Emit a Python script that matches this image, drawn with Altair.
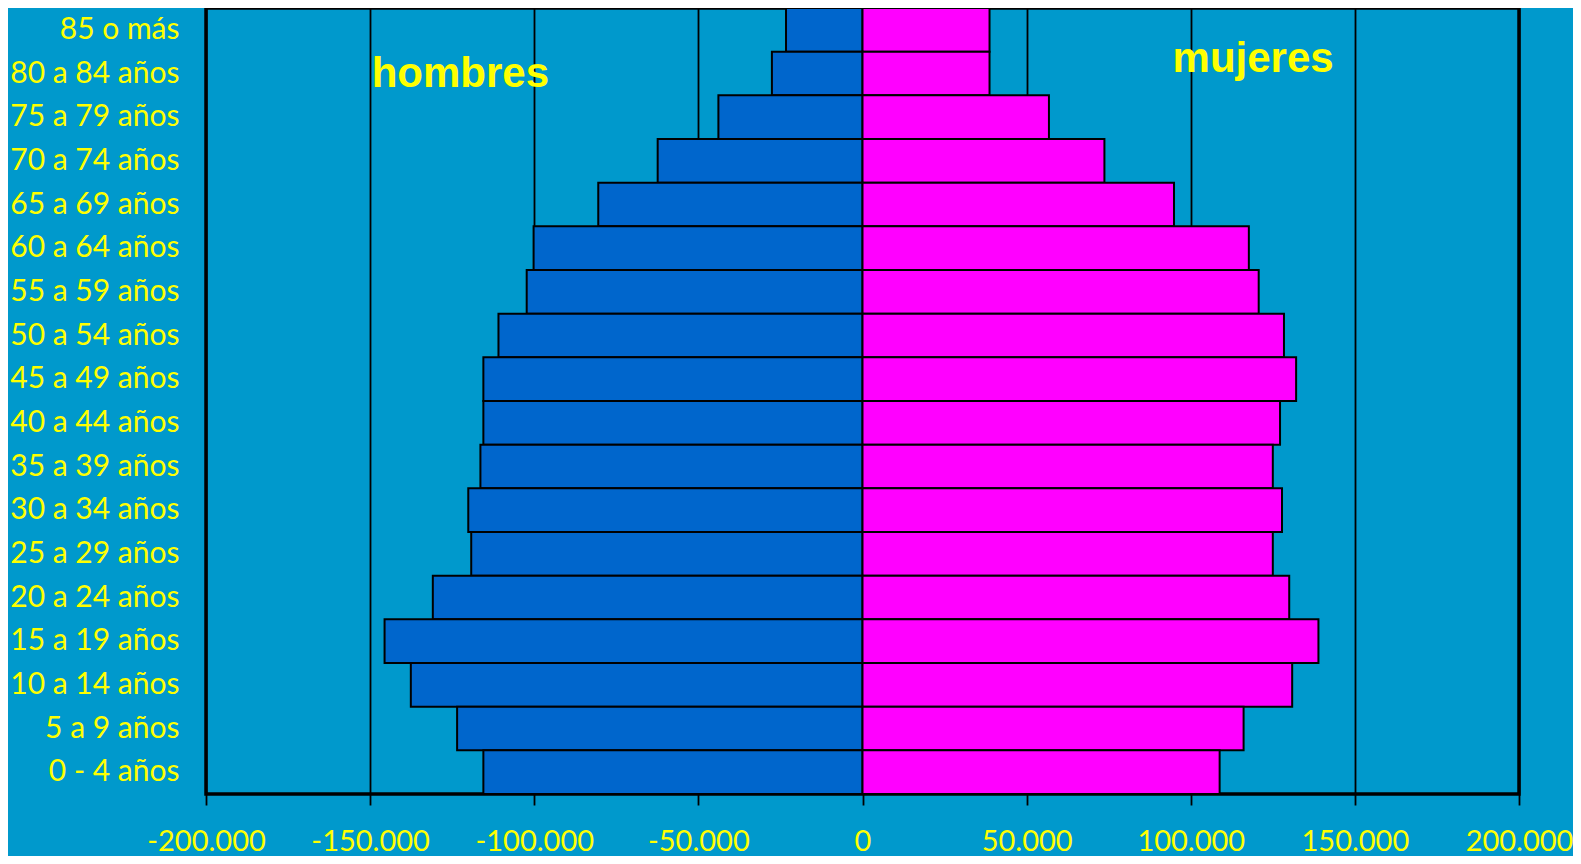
import altair as alt
import pandas as pd

ages = ["85 o más", "80 a 84 años", "75 a 79 años", "70 a 74 años", "65 a 69 años",
        "60 a 64 años", "55 a 59 años", "50 a 54 años", "45 a 49 años", "40 a 44 años",
        "35 a 39 años", "30 a 34 años", "25 a 29 años", "20 a 24 años", "15 a 19 años",
        "10 a 14 años", "5 a 9 años", "0 - 4 años"]
hombres = [23300, 27600, 43900, 62400, 80500, 100200, 102300, 110900, 115500, 115500,
           116400, 120100, 119200, 130900, 145600, 137600, 123500, 115500]
mujeres = [38700, 38700, 56800, 73700, 94900, 117700, 120700, 128400, 132100, 127200,
           125000, 127800, 125000, 130000, 138900, 130900, 116100, 108800]
ticks = [-200000, -150000, -100000, -50000, 0, 50000, 100000, 150000, 200000]

rows = []
for a, h, m in zip(ages, hombres, mujeres):
    rows.append({"edad": a, "sexo": "hombres", "valor": -h})
    rows.append({"edad": a, "sexo": "mujeres", "valor": m})
df = pd.DataFrame(rows)

BG = "#0099CC"
YEL = "#FFFF00"

yscale = alt.Scale(domain=ages, paddingInner=0, paddingOuter=0)
xscale = alt.Scale(domain=[-200000, 200000], nice=False)

bars = alt.Chart(df).mark_bar(stroke="black", strokeWidth=2).encode(
    x=alt.X("valor:Q", scale=xscale,
            axis=alt.Axis(values=ticks, title=None, grid=True, gridColor="black",
                          gridWidth=1.8, gridOpacity=1, domain=False,
                          ticks=True, tickColor="black", tickSize=11, tickWidth=1.8,
                          labelColor=YEL, labelFont="Lato", labelFontSize=29,
                          labelPadding=22, labelFlush=False,
                          labelExpr="(datum.value < 0 ? '-' : '') + replace(format(abs(datum.value), ','), ',', '.')")),
    x2=alt.datum(0),
    y=alt.Y("edad:N", scale=yscale, sort=ages,
            axis=alt.Axis(title=None, ticks=False, domain=False, labelColor=YEL,
                          labelFont="Lato", labelFontSize=30, labelPadding=27)),
    color=alt.Color("sexo:N", scale=alt.Scale(domain=["hombres", "mujeres"],
                                               range=["#0066CC", "#FF00FF"]), legend=None),
)

lab_df = pd.DataFrame({"txt": ["hombres", "mujeres"], "x": [-122500, 119000],
                       "edad": ["80 a 84 años", "80 a 84 años"]})
t1 = alt.Chart(lab_df.iloc[[0]]).mark_text(font="Liberation Sans", fontWeight="bold",
                                           fontSize=42, color=YEL, dy=0).encode(
    x=alt.X("x:Q", scale=xscale), y=alt.Y("edad:N", scale=yscale, sort=ages), text="txt:N")
t2 = alt.Chart(lab_df.iloc[[1]]).mark_text(font="Liberation Sans", fontWeight="bold",
                                           fontSize=42, color=YEL, dy=-15).encode(
    x=alt.X("x:Q", scale=xscale), y=alt.Y("edad:N", scale=yscale, sort=ages), text="txt:N")

chart = (bars + t1 + t2).properties(
    width=1313, height=786,
    autosize=alt.AutoSizeParams(type="none"),
    padding={"left": 198, "top": 0, "right": 54, "bottom": 62},
    background=BG,
).configure_view(fill=BG, stroke="black", strokeWidth=3.5)

chart.save("out.html", embed_options={"renderer": "svg", "actions": False})
